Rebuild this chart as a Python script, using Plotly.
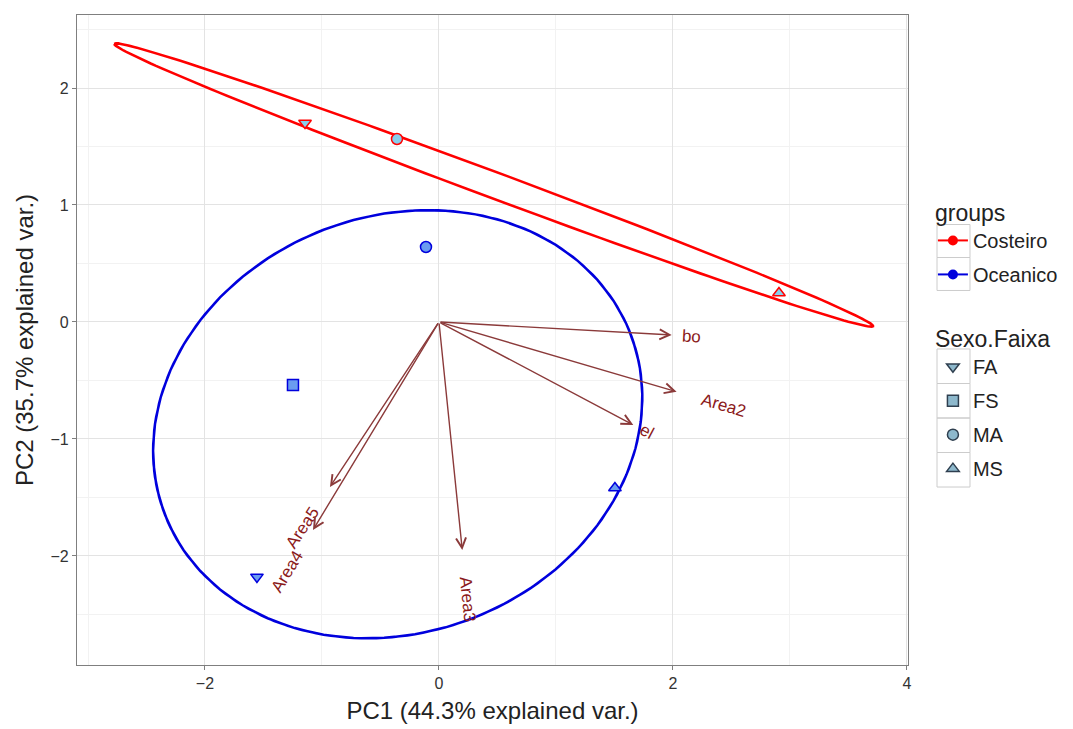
import numpy as np
import plotly.graph_objects as go

# ---- data ----
pc1 = [-1.145, -0.359, 2.906, -0.111, -1.248, 1.504, -1.556]
pc2 = [1.701, 1.564, 0.248, 0.641, -0.538, -1.419, -2.179]
groups = ["Costeiro", "Costeiro", "Costeiro", "Oceanico", "Oceanico", "Oceanico", "Oceanico"]
sexo = ["FA", "MA", "MS", "MA", "FS", "MS", "FA"]

var_names = ["bo", "Area2", "el", "Area3", "Area5", "Area4"]
load_x = [1.989, 2.031, 1.661, 0.199, -0.932, -1.077]
load_y = [-0.111, -0.596, -0.880, -1.949, -1.410, -1.778]

group_names = ["Costeiro", "Oceanico"]
sexo_levels = ["FA", "FS", "MA", "MS"]

# ---- styles ----
group_line = {"Costeiro": "#FF0000", "Oceanico": "#0000DD"}
group_fill = {"Costeiro": "#87CEEB", "Oceanico": "#6A9CF0"}
shape_map = {"FA": "triangle-down", "FS": "square", "MA": "circle", "MS": "triangle-up"}
arrow_col = "#8B3A3A"
label_col = "#8B1A1A"
FONT = "Liberation Sans, Arial, sans-serif"

fig = go.Figure()

# ellipses (ggbiplot style, prob = 0.68)
theta = np.concatenate([np.linspace(-np.pi, np.pi, 200), np.linspace(np.pi, -np.pi, 200)])
circle = np.column_stack([np.cos(theta), np.sin(theta)])
ed = np.sqrt(-2 * np.log(1 - 0.68))
x_arr = np.array(pc1)
y_arr = np.array(pc2)
g_arr = np.array(groups)
for g in group_names:
    m = g_arr == g
    xy = np.column_stack([x_arr[m], y_arr[m]])
    sigma = np.cov(xy.T)
    mu = xy.mean(axis=0)
    R = np.linalg.cholesky(sigma).T
    ell = circle @ R * ed + mu
    fig.add_trace(go.Scatter(x=ell[:, 0], y=ell[:, 1], mode="lines",
                             line=dict(color=group_line[g], width=2.5),
                             showlegend=False, hoverinfo="skip"))

# points
for g in group_names:
    for s in sexo_levels:
        idx = [i for i in range(len(pc1)) if groups[i] == g and sexo[i] == s]
        if not idx:
            continue
        fig.add_trace(go.Scatter(
            x=[pc1[i] for i in idx], y=[pc2[i] for i in idx], mode="markers",
            marker=dict(symbol=shape_map[s], size=11, color=group_fill[g],
                        line=dict(color=group_line[g], width=1.5)),
            showlegend=False, name=f"{g} {s}"))

# legend entries: groups
for g in group_names:
    fig.add_trace(go.Scatter(x=[None], y=[None], mode="lines+markers", name=g,
                             line=dict(color=group_line[g], width=2),
                             marker=dict(symbol="circle", size=10, color=group_line[g]),
                             legend="legend", legendgroup=g))
# legend entries: Sexo.Faixa
for s in sexo_levels:
    fig.add_trace(go.Scatter(x=[None], y=[None], mode="markers", name=s,
                             marker=dict(symbol=shape_map[s], size=11, color="#8DB8CC",
                                         line=dict(color="#2F3F4F", width=1.5)),
                             legend="legend2", legendgroup=s))

# arrows and labels
for name, lx, ly in zip(var_names, load_x, load_y):
    fig.add_annotation(x=lx, y=ly, ax=0, ay=0, xref="x", yref="y", axref="x", ayref="y",
                       text="", showarrow=True, arrowhead=5, arrowsize=1.4,
                       arrowwidth=1.4, arrowcolor=arrow_col, standoff=0)
    ang = np.arctan(ly / lx)
    direction = np.arctan2(ly, lx)
    off = len(name) * 9.8 if name != "el" else 15
    fig.add_annotation(x=lx, y=ly, xref="x", yref="y", text=name, showarrow=False,
                       textangle=-np.degrees(ang), xanchor="center", yanchor="middle",
                       xshift=np.cos(direction) * off, yshift=np.sin(direction) * off,
                       font=dict(family=FONT, size=17, color=label_col))

# grey key boxes of the legends (ggplot style)
key_x0, key_x1 = 1.0349, 1.0746
for y0, y1 in [(0.6269, 0.6777), (0.5762, 0.6269),
               (0.4331, 0.4862), (0.3800, 0.4331), (0.3269, 0.3800), (0.2738, 0.3269)]:
    fig.add_shape(type="rect", xref="paper", yref="paper", x0=key_x0, x1=key_x1,
                  y0=y0, y1=y1, line=dict(color="#CCCCCC", width=1), fillcolor="rgba(0,0,0,0)")

axis_common = dict(showgrid=True, gridcolor="#E3E3E3", gridwidth=1,
                   zeroline=False, showline=True, mirror=True, linecolor="#7F7F7F",
                   linewidth=1.2, ticks="outside", ticklen=4, tickcolor="#7F7F7F",
                   tickfont=dict(family=FONT, size=16, color="#333333"))

fig.update_layout(
    width=1073, height=729,
    paper_bgcolor="white", plot_bgcolor="white",
    margin=dict(l=69, r=173, t=7, b=72),
    font=dict(family=FONT),
    xaxis=dict(range=[-3.094, 4.009], dtick=2, tick0=0,
               minor=dict(showgrid=True, gridcolor="#F2F2F2", dtick=1, tick0=0),
               title=dict(text="PC1 (44.3% explained var.)", standoff=10,
                          font=dict(family=FONT, size=24, color="#222222")),
               **axis_common),
    yaxis=dict(range=[-2.932, 2.624], dtick=1, tick0=0,
               minor=dict(showgrid=True, gridcolor="#F2F2F2", dtick=0.5, tick0=0),
               title=dict(text="PC2 (35.7% explained var.)", standoff=10,
                          font=dict(family=FONT, size=24, color="#222222")),
               **axis_common),
    legend=dict(title=dict(text="groups", font=dict(size=23, color="#222222")),
                x=1.03, y=0.7292, xanchor="left", yanchor="top",
                font=dict(family=FONT, size=20, color="#222222"), itemwidth=30,
                tracegroupgap=5, bgcolor="rgba(0,0,0,0)"),
    legend2=dict(title=dict(text="Sexo.Faixa", font=dict(size=23, color="#222222")),
                 x=1.03, y=0.535, xanchor="left", yanchor="top",
                 font=dict(family=FONT, size=20, color="#222222"), itemwidth=30,
                 tracegroupgap=5, bgcolor="rgba(0,0,0,0)"),
)

fig.write_html("out.html")
